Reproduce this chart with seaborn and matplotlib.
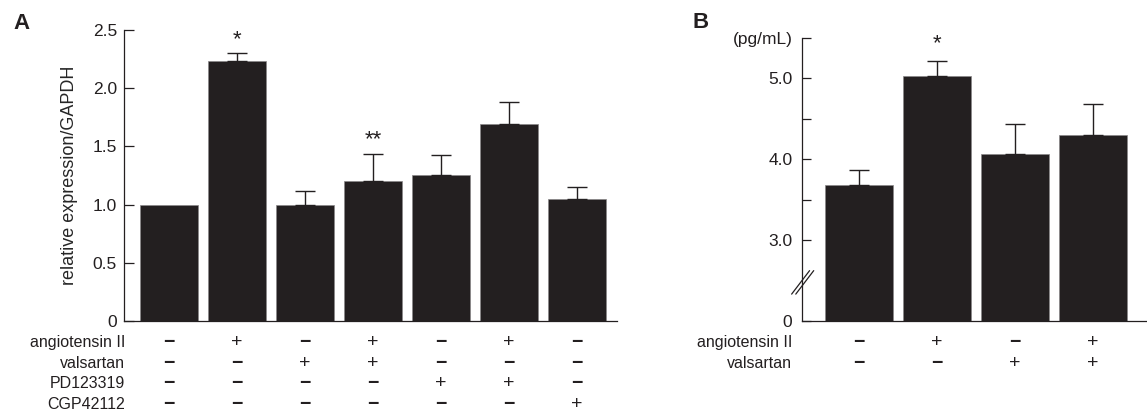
import numpy as np
import pandas as pd
import seaborn as sns
import matplotlib.pyplot as plt
from matplotlib import transforms

# panel A: relative expression / GAPDH
a_groups = ["1", "2", "3", "4", "5", "6", "7"]
a_means = [1.0, 2.23, 1.0, 1.205, 1.255, 1.69, 1.05]
a_err = [0.0, 0.07, 0.12, 0.23, 0.17, 0.19, 0.10]
a_rows = ["angiotensin II", "valsartan", "PD123319", "CGP42112"]
a_table = [
    ["-", "+", "-", "+", "-", "+", "-"],
    ["-", "-", "+", "+", "-", "-", "-"],
    ["-", "-", "-", "-", "+", "+", "-"],
    ["-", "-", "-", "-", "-", "-", "+"],
]
a_stars = {1: "*", 3: "**"}
a_ticks = [0, 0.5, 1.0, 1.5, 2.0, 2.5]
a_ticklabels = ["0", "0.5", "1.0", "1.5", "2.0", "2.5"]

# panel B: pg/mL (broken axis, 0 drawn where 2.0 would be)
b_groups = ["1", "2", "3", "4"]
b_means = [3.68, 5.03, 4.07, 4.30]
b_err = [0.19, 0.19, 0.37, 0.39]
b_rows = ["angiotensin II", "valsartan"]
b_table = [
    ["-", "+", "-", "+"],
    ["-", "-", "+", "+"],
]
b_stars = {1: "*"}
b_ticks = [2.0, 3.0, 3.5, 4.0, 4.5, 5.0, 5.5]
b_ticklabels = ["0", "3.0", "", "4.0", "", "5.0", "(pg/mL)"]

INK = "#231f20"

sns.set_style("ticks")
plt.rcParams["font.family"] = ["Liberation Sans", "DejaVu Sans"]
plt.rcParams["text.color"] = INK
plt.rcParams["axes.edgecolor"] = INK
plt.rcParams["xtick.color"] = INK
plt.rcParams["ytick.color"] = INK

fig = plt.figure(figsize=(11.47, 4.15), dpi=100)
ax_a = fig.add_axes([0.1081, 0.2265, 0.4298, 0.7012])
ax_b = fig.add_axes([0.6992, 0.2265, 0.3008, 0.6819])

ROW_Y = [0.1759, 0.1253, 0.0747, 0.0241]


def draw_panel(ax, groups, means, err, width, stars, star_off):
    df = pd.DataFrame({"group": groups, "value": means})
    sns.barplot(data=df, x="group", y="value", color=INK, width=width,
                saturation=1, edgecolor="#8a8788", linewidth=0.5, ax=ax)
    x = np.arange(len(groups))
    e = np.array(err)
    m = np.array(means)
    keep = e > 0
    ax.errorbar(x[keep], m[keep], yerr=[np.zeros(keep.sum()), e[keep]],
                fmt="none", ecolor=INK, elinewidth=1.0, capsize=7.5,
                capthick=1.0)
    for i, s in stars.items():
        ax.annotate(s, (x[i], m[i] + e[i]), xytext=(0, star_off),
                    textcoords="offset points", ha="center", va="center",
                    fontsize=16, color=INK)
    ax.set_xlabel("")
    ax.set_ylabel("")
    ax.set_xticks([])
    for side in ["top", "right"]:
        ax.spines[side].set_visible(False)
    for side in ["left", "bottom"]:
        ax.spines[side].set_linewidth(0.9)
    ax.tick_params(axis="y", direction="in", length=7, width=0.9,
                   labelsize=12.5, pad=5)


def draw_table(ax, rows, table, label_x):
    trans = transforms.blended_transform_factory(ax.transData, fig.transFigure)
    for r, (name, signs) in enumerate(zip(rows, table)):
        fig.text(label_x, ROW_Y[r], name, ha="right", va="center",
                 fontsize=11.5, color=INK)
        for i, s in enumerate(signs):
            if s == "+":
                ax.text(i, ROW_Y[r], "+", transform=trans, ha="center",
                        va="center", fontsize=14, fontweight="light",
                        color=INK, clip_on=False)
            else:
                ax.text(i, ROW_Y[r], "\u2212", transform=trans, ha="center",
                        va="center", fontsize=14, fontweight="bold",
                        color=INK, clip_on=False)


# panel A
draw_panel(ax_a, a_groups, a_means, a_err, 0.853, a_stars, 10)
ax_a.set_xlim(-0.662, 6.588)
ax_a.set_ylim(0, 2.5)
ax_a.set_yticks(a_ticks)
ax_a.set_yticklabels(a_ticklabels)
ax_a.set_ylabel("relative expression/GAPDH", fontsize=13)
ax_a.yaxis.set_label_coords(-0.093, 0.5)
draw_table(ax_a, a_rows, a_table, 0.109)

# panel B
draw_panel(ax_b, b_groups, b_means, b_err, 0.872, b_stars, 12)
ax_b.set_xlim(-0.731, 3.69)
ax_b.set_ylim(2.0, 5.5)
ax_b.set_yticks(b_ticks)
ax_b.set_yticklabels(b_ticklabels)
ax_b.tick_params(axis="y", length=6.5, pad=7)
draw_table(ax_b, b_rows, b_table, 0.6905)

# axis break marks on panel B
for dx in (0.0, 0.012):
    ax_b.plot([-0.030 + dx, 0.022 + dx], [0.095, 0.178], color=INK,
              lw=0.9, transform=ax_b.transAxes, clip_on=False)

fig.text(0.0113, 0.930, "A", fontsize=16, fontweight="bold", color=INK)
fig.text(0.604, 0.9325, "B", fontsize=16, fontweight="bold", color=INK)

plt.savefig("out.png", dpi=100)
